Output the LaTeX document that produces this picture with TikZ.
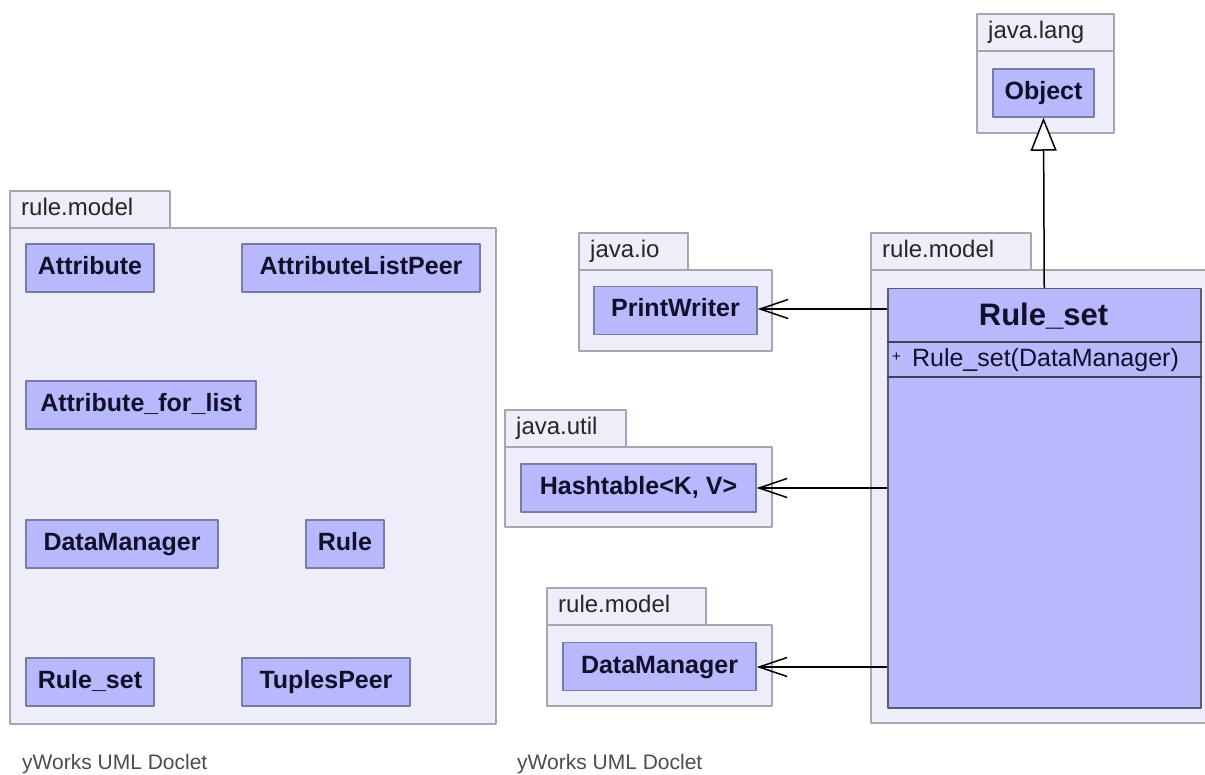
\documentclass[tikz,border=0pt]{standalone}
\usepackage{fontspec}
\setmainfont{Liberation Sans}
\usepackage{tikz}
\usetikzlibrary{arrows.meta,positioning}
\definecolor{pkgfill}{HTML}{EEEEFA}
\definecolor{pkgline}{HTML}{A6A6AE}
\definecolor{clsfill}{HTML}{B8B8FC}
\definecolor{clsline}{HTML}{7A7AA2}
\definecolor{clstext}{HTML}{10102C}

\begin{document}
\begin{tikzpicture}[x=1pt,y=-1pt,line join=round,
  pkgtab/.style={draw=pkgline,fill=pkgfill,line width=1.5pt,anchor=north west,
    inner sep=0,outer sep=0,minimum height=37pt},
  pkgbody/.style={pkgtab,minimum height=#1},
  tablbl/.style={anchor=west,inner sep=0,text=black!85,text height=17pt,
    text depth=5pt,font=\fontsize{24}{28}\selectfont},
  cls/.style={draw=clsline,fill=clsfill,line width=1.5pt,minimum height=48pt,
    inner sep=0,text=clstext,text height=18pt,text depth=5pt,
    font=\bfseries\fontsize{25}{30}\selectfont},
  sepline/.style={draw=clstext!80,line width=2pt},
  dep/.style={line width=1.5pt,-{Straight Barb[length=28pt,width=19pt,line width=1.5pt]}},
  inh/.style={line width=1.5pt,-{Triangle[open,length=33pt,width=26pt,fill=white]}},
  footer/.style={anchor=base west,inner sep=0,text=black!70,
    font=\fontsize{21}{25}\selectfont}]
  \useasboundingbox (0,0) rectangle (1205,775);
  \foreach \nm/\lbl/\px/\py/\tw/\bw/\bh in {lm/rule.model/10/191/160/486/496,
      jl/java.lang/977/14/137/137/82, jio/java.io/579/233/109/193/81,
      rm/rule.model/871/233/160/340/453, ju/java.util/505/410/121/267/80,
      rm2/rule.model/547/588/159/225/81}{
    \node[pkgbody=\bh pt,minimum width=\bw pt] (\nm) at (\px,\py+37) {};
    \node[pkgtab,minimum width=\tw pt] (\nm tab) at (\px,\py) {};
    \node[tablbl] at ([xshift=11pt]\nm tab.west) {\lbl};
  }
  \foreach \nm/\lbl/\cx/\cy/\w in {la/Attribute/90/268/128,
      lalp/AttributeListPeer/361/268/238, lafl/Attribute\_for\_list/141/405/230,
      ldm/DataManager/122/544/192, lr/Rule/345/544/78,
      lrs/Rule\_set/90/682/128, ltp/TuplesPeer/326/682/168}
    \node[cls,minimum width=\w pt] (\nm) at (\cx,\cy) {\lbl};

  \node[cls,minimum width=101pt] (obj) at (1043.5,93) {Object};
  \node[cls,minimum width=163pt] (pw) at (675.5,310.5) {PrintWriter};
  \node[cls,minimum width=235pt] (ht) at (638.5,488) {Hashtable<K, V>};
  \node[cls,minimum width=193pt] (dm) at (659.5,666.5) {DataManager};

  \node[cls,draw=clsline!75!black,anchor=north west,minimum width=313pt,
    minimum height=419pt] (rs) at (887,288) {};
  \node[text=clstext,font=\bfseries\fontsize{31}{36}\selectfont] (rsname)
    at (1043.5,316) {Rule\_set};
  \draw[sepline] ([yshift=-54pt]rs.north west) -- ([yshift=-54pt]rs.north east);
  \node[anchor=west,inner sep=0,text=clstext,font=\fontsize{25}{30}\selectfont]
    (rsctor) at (892,360)
    {\raisebox{5pt}{\fontsize{15}{18}\selectfont+}\, Rule\_set(DataManager)};
  \draw[sepline] ([yshift=-89pt]rs.north west) -- ([yshift=-89pt]rs.north east);

  \draw[inh] (rs.north) -- (obj.south);
  \draw[dep] (rs.west |- 0,309) -- (pw.east |- 0,309);
  \draw[dep] (rs.west |- ht) -- (ht.east);
  \draw[dep] (rs.west |- 0,667) -- (dm.east |- 0,667);

  \node[footer] (ft1) at (22,769) {yWorks UML Doclet};
  \node[footer] (ft2) at (517,769) {yWorks UML Doclet};
\end{tikzpicture}
\end{document}
